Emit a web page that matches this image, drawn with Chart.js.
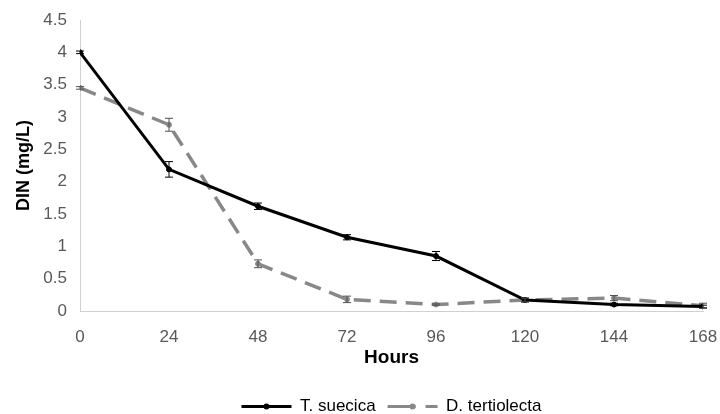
<!DOCTYPE html>
<html>
<head>
<meta charset="utf-8">
<script src="https://cdn.jsdelivr.net/npm/chart.js@4"></script>
<style>
  html, body { margin: 0; padding: 0; background: #fff; }
  #wrap { width: 720px; height: 414px; }
</style>
</head>
<body>
<div id="wrap"><canvas id="dinChart"></canvas></div>
<script>
const hours = [0, 24, 48, 72, 96, 120, 144, 168];
const suecica = [4.0, 2.19, 1.62, 1.14, 0.85, 0.17, 0.10, 0.07];
const suecicaErr = [0.02, 0.12, 0.05, 0.04, 0.07, 0.03, 0.02, 0.02];
const tertiolecta = [3.45, 2.88, 0.73, 0.18, 0.10, 0.17, 0.20, 0.08];
const tertiolectaErr = [0.02, 0.10, 0.06, 0.05, 0.01, 0.03, 0.04, 0.04];
const yTicks = [0, 0.5, 1, 1.5, 2, 2.5, 3, 3.5, 4, 4.5];

const FONT = '"Liberation Sans", Arial, sans-serif';
const SWATCH = 50;
const LEGEND_H = 28;

// draws the error bars from the scales
const errorBars = {
  id: 'errorBars',
  afterDatasetsDraw(chart) {
    const { ctx, scales: { x, y } } = chart;
    chart.data.datasets.forEach((ds) => {
      if (!ds.errors) return;
      ctx.save();
      ctx.strokeStyle = ds.errorColor;
      ctx.lineWidth = 1;
      ds.data.forEach((pt, i) => {
        const px = x.getPixelForValue(pt.x);
        const top = y.getPixelForValue(pt.y + ds.errors[i]);
        const bot = y.getPixelForValue(pt.y - ds.errors[i]);
        ctx.beginPath();
        ctx.moveTo(px, top); ctx.lineTo(px, bot);
        ctx.moveTo(px - 4, top); ctx.lineTo(px + 4, top);
        ctx.moveTo(px - 4, bot); ctx.lineTo(px + 4, bot);
        ctx.stroke();
      });
      ctx.restore();
    });
  }
};

// legend: fixed height, centred under the plot, marker dot on each swatch
const legendTweaks = {
  id: 'legendTweaks',
  beforeLayout(chart) {
    const lg = chart.legend;
    if (lg && !lg._patched) {
      const fit = lg.fit;
      lg.fit = function () { fit.call(this); this.height = LEGEND_H; };
      lg._patched = true;
    }
  },
  afterLayout(chart) {
    const lg = chart.legend;
    if (!lg) return;
    lg.left = chart.chartArea.left - 4;
    lg.right = chart.chartArea.right + 4;
    lg.width = lg.right - lg.left;
  },
  afterDraw(chart) {
    const lg = chart.legend;
    if (!lg || !lg.legendHitBoxes) return;
    const { ctx } = chart;
    lg.legendHitBoxes.forEach((box, i) => {
      const ds = chart.data.datasets[i];
      ctx.save();
      ctx.fillStyle = ds.borderColor;
      ctx.beginPath();
      ctx.arc(box.left + SWATCH / 2, box.top + box.height / 2, 3, 0, Math.PI * 2);
      ctx.fill();
      ctx.restore();
    });
  }
};

const toPoints = (vals) => vals.map((v, i) => ({ x: hours[i], y: v }));

new Chart(document.getElementById('dinChart'), {
  type: 'line',
  data: {
    datasets: [
      {
        label: 'T. suecica',
        data: toPoints(suecica),
        errors: suecicaErr,
        errorColor: '#000',
        borderColor: '#000',
        backgroundColor: '#000',
        borderWidth: 3,
        pointRadius: 2.5,
        pointBorderWidth: 1,
        tension: 0
      },
      {
        label: 'D. tertiolecta',
        data: toPoints(tertiolecta),
        errors: tertiolectaErr,
        errorColor: '#505050',
        borderColor: '#888888',
        backgroundColor: '#888888',
        borderWidth: 3.5,
        borderDash: [17, 9],
        pointRadius: 2.5,
        pointBorderWidth: 1,
        tension: 0
      }
    ]
  },
  options: {
    responsive: true,
    maintainAspectRatio: false,
    animation: false,
    layout: { padding: { top: 20, right: 3, left: 8, bottom: 0 } },
    plugins: {
      tooltip: { enabled: false },
      legend: {
        position: 'bottom',
        labels: {
          usePointStyle: true,
          pointStyle: 'line',
          pointStyleWidth: SWATCH,
          padding: 12,
          color: '#000',
          font: { family: FONT, size: 17 },
          generateLabels: (chart) => Chart.defaults.plugins.legend.labels.generateLabels(chart).map((it, i) => ({
            ...it,
            lineWidth: 3,
            lineDash: i ? [28, 10] : [],
            strokeStyle: chart.data.datasets[i].borderColor
          }))
        }
      }
    },
    scales: {
      x: {
        type: 'linear',
        min: 0,
        max: 168,
        afterBuildTicks: (axis) => { axis.ticks = hours.map(v => ({ value: v })); },
        afterFit: (scale) => {
          scale.height = 75;
          // only half the last label hangs past the plot, not the tick padding
          scale.paddingRight = 17;
          scale.paddingLeft = 0;
        },
        grid: { display: false, drawTicks: false },
        border: { color: '#d0d0d0', width: 1 },
        ticks: { color: '#595959', padding: 16, font: { family: FONT, size: 17 } },
        title: { display: true, text: 'Hours', color: '#000', padding: { top: 0, bottom: 17 }, font: { family: FONT, size: 19, weight: 'bold' } }
      },
      y: {
        min: 0,
        max: 4.5,
        afterBuildTicks: (axis) => { axis.ticks = yTicks.map(v => ({ value: v })); },
        afterFit: (scale) => {
          scale.width = 72;
          scale.paddingTop = 0;
          scale.paddingBottom = 0;
        },
        grid: { display: false, drawTicks: false },
        border: { color: '#d0d0d0', width: 1 },
        ticks: {
          color: '#595959',
          padding: 13,
          font: { family: FONT, size: 17 },
          callback: (v) => String(v)
        },
        title: { display: true, text: 'DIN (mg/L)', color: '#000', padding: { top: 5, bottom: 0 }, font: { family: FONT, size: 18, weight: 'bold' } }
      }
    }
  },
  plugins: [errorBars, legendTweaks]
});
</script>
</body>
</html>
